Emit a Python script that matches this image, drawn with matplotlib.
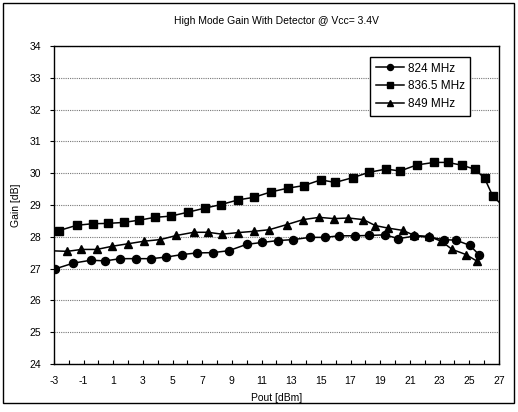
import matplotlib
matplotlib.use("Agg")
import matplotlib.pyplot as plt
from matplotlib.patches import Rectangle
from matplotlib.ticker import MultipleLocator

plt.rcParams['font.family'] = ['Liberation Sans', 'DejaVu Sans']
plt.rcParams['axes.unicode_minus'] = False

# Measured Pout (dBm) and gain (dB) for each frequency
pout_824 = [-2.90, -1.68, -0.51, 0.48, 1.47, 2.51, 3.57, 4.58, 5.66, 6.65,
            7.73, 8.79, 9.99, 11.04, 12.12, 13.14, 14.26, 15.26, 16.25,
            17.30, 18.27, 19.33, 20.23, 21.31, 22.26, 23.27, 24.13, 25.03, 25.66]
gain_824 = [26.99, 27.17, 27.26, 27.24, 27.31, 27.31, 27.31, 27.36, 27.44, 27.49,
            27.50, 27.56, 27.76, 27.82, 27.88, 27.91, 27.98, 27.98, 28.03,
            28.03, 28.04, 28.06, 27.94, 28.02, 27.99, 27.91, 27.89, 27.73, 27.44]

pout_836 = [-3.30, -2.68, -1.46, -0.38, 0.64, 1.70, 2.73, 3.81, 4.89, 6.02,
            7.17, 8.25, 9.42, 10.48, 11.63, 12.78, 13.86, 14.99, 15.97,
            17.15, 18.27, 19.40, 20.34, 21.47, 22.64, 23.54, 24.53, 25.41,
            26.04, 26.58, 27.60]
gain_836 = [28.12, 28.19, 28.36, 28.41, 28.42, 28.45, 28.52, 28.61, 28.65, 28.77,
            28.90, 29.01, 29.16, 29.24, 29.41, 29.53, 29.61, 29.79, 29.71,
            29.86, 30.03, 30.13, 30.07, 30.26, 30.34, 30.34, 30.25, 30.12,
            29.84, 29.29, 28.82]

pout_849 = [-3.30, -2.10, -1.14, -0.11, 0.93, 2.01, 3.09, 4.18, 5.26, 6.43,
            7.39, 8.34, 9.42, 10.48, 11.51, 12.69, 13.81, 14.89, 15.89,
            16.85, 17.86, 18.68, 19.55, 20.53, 21.31, 22.28, 23.11, 23.86,
            24.78, 25.53]
gain_849 = [27.56, 27.54, 27.60, 27.60, 27.70, 27.78, 27.86, 27.91, 28.04, 28.14,
            28.14, 28.08, 28.13, 28.17, 28.22, 28.38, 28.54, 28.61, 28.57,
            28.59, 28.54, 28.35, 28.27, 28.20, 28.04, 28.01, 27.86, 27.60,
            27.44, 27.23]

x_ticks = list(range(-3, 28, 2))
y_ticks = list(range(24, 35))

fig = plt.figure(figsize=(5.18, 4.12), dpi=100)
ax = fig.add_axes([0.104, 0.117, 0.859, 0.771])

# thin frame round the whole chart
fig.patches.append(Rectangle((0.006, 0.022), 0.986, 0.970, transform=fig.transFigure,
                             fill=False, edgecolor='black', lw=1.0))

ax.plot(pout_824, gain_824, '-o', color='black', lw=1.1, ms=5.8, label='824 MHz')
ax.plot(pout_836, gain_836, '-s', color='black', lw=1.1, ms=5.8, label='836.5 MHz')
ax.plot(pout_849, gain_849, '-^', color='black', lw=1.1, ms=6.3, label='849 MHz')

ax.set_xlim(-3, 27)
ax.set_ylim(24, 34)
ax.set_xticks(x_ticks)
ax.xaxis.set_minor_locator(MultipleLocator(1))
ax.set_yticks(y_ticks)
ax.tick_params(axis='x', which='both', direction='in', length=3, width=0.8,
               labelsize=7.5, pad=9)
ax.tick_params(axis='y', direction='out', length=3, width=0.8, labelsize=7.5, pad=6)
for sp in ax.spines.values():
    sp.set_linewidth(1.0)

ax.yaxis.grid(True, color='#777777', ls=(0, (1, 1)), lw=0.8)
ax.set_axisbelow(True)

ax.set_xlabel('Pout [dBm]', fontsize=7.5, labelpad=5)
ax.set_ylabel('Gain [dB]', fontsize=7.5, labelpad=6)
ax.set_title('High Mode Gain With Detector @ Vcc= 3.4V', fontsize=7.5, pad=16)

leg = ax.legend(loc='upper right', bbox_to_anchor=(0.935, 0.965), borderaxespad=0,
                fontsize=8.5, frameon=True, fancybox=False, edgecolor='black',
                framealpha=1, markerscale=0.75, handlelength=2.4,
                handletextpad=0.3, borderpad=0.45, labelspacing=0.5)
leg.get_frame().set_linewidth(1.0)

fig.savefig('out.png', dpi=100)
